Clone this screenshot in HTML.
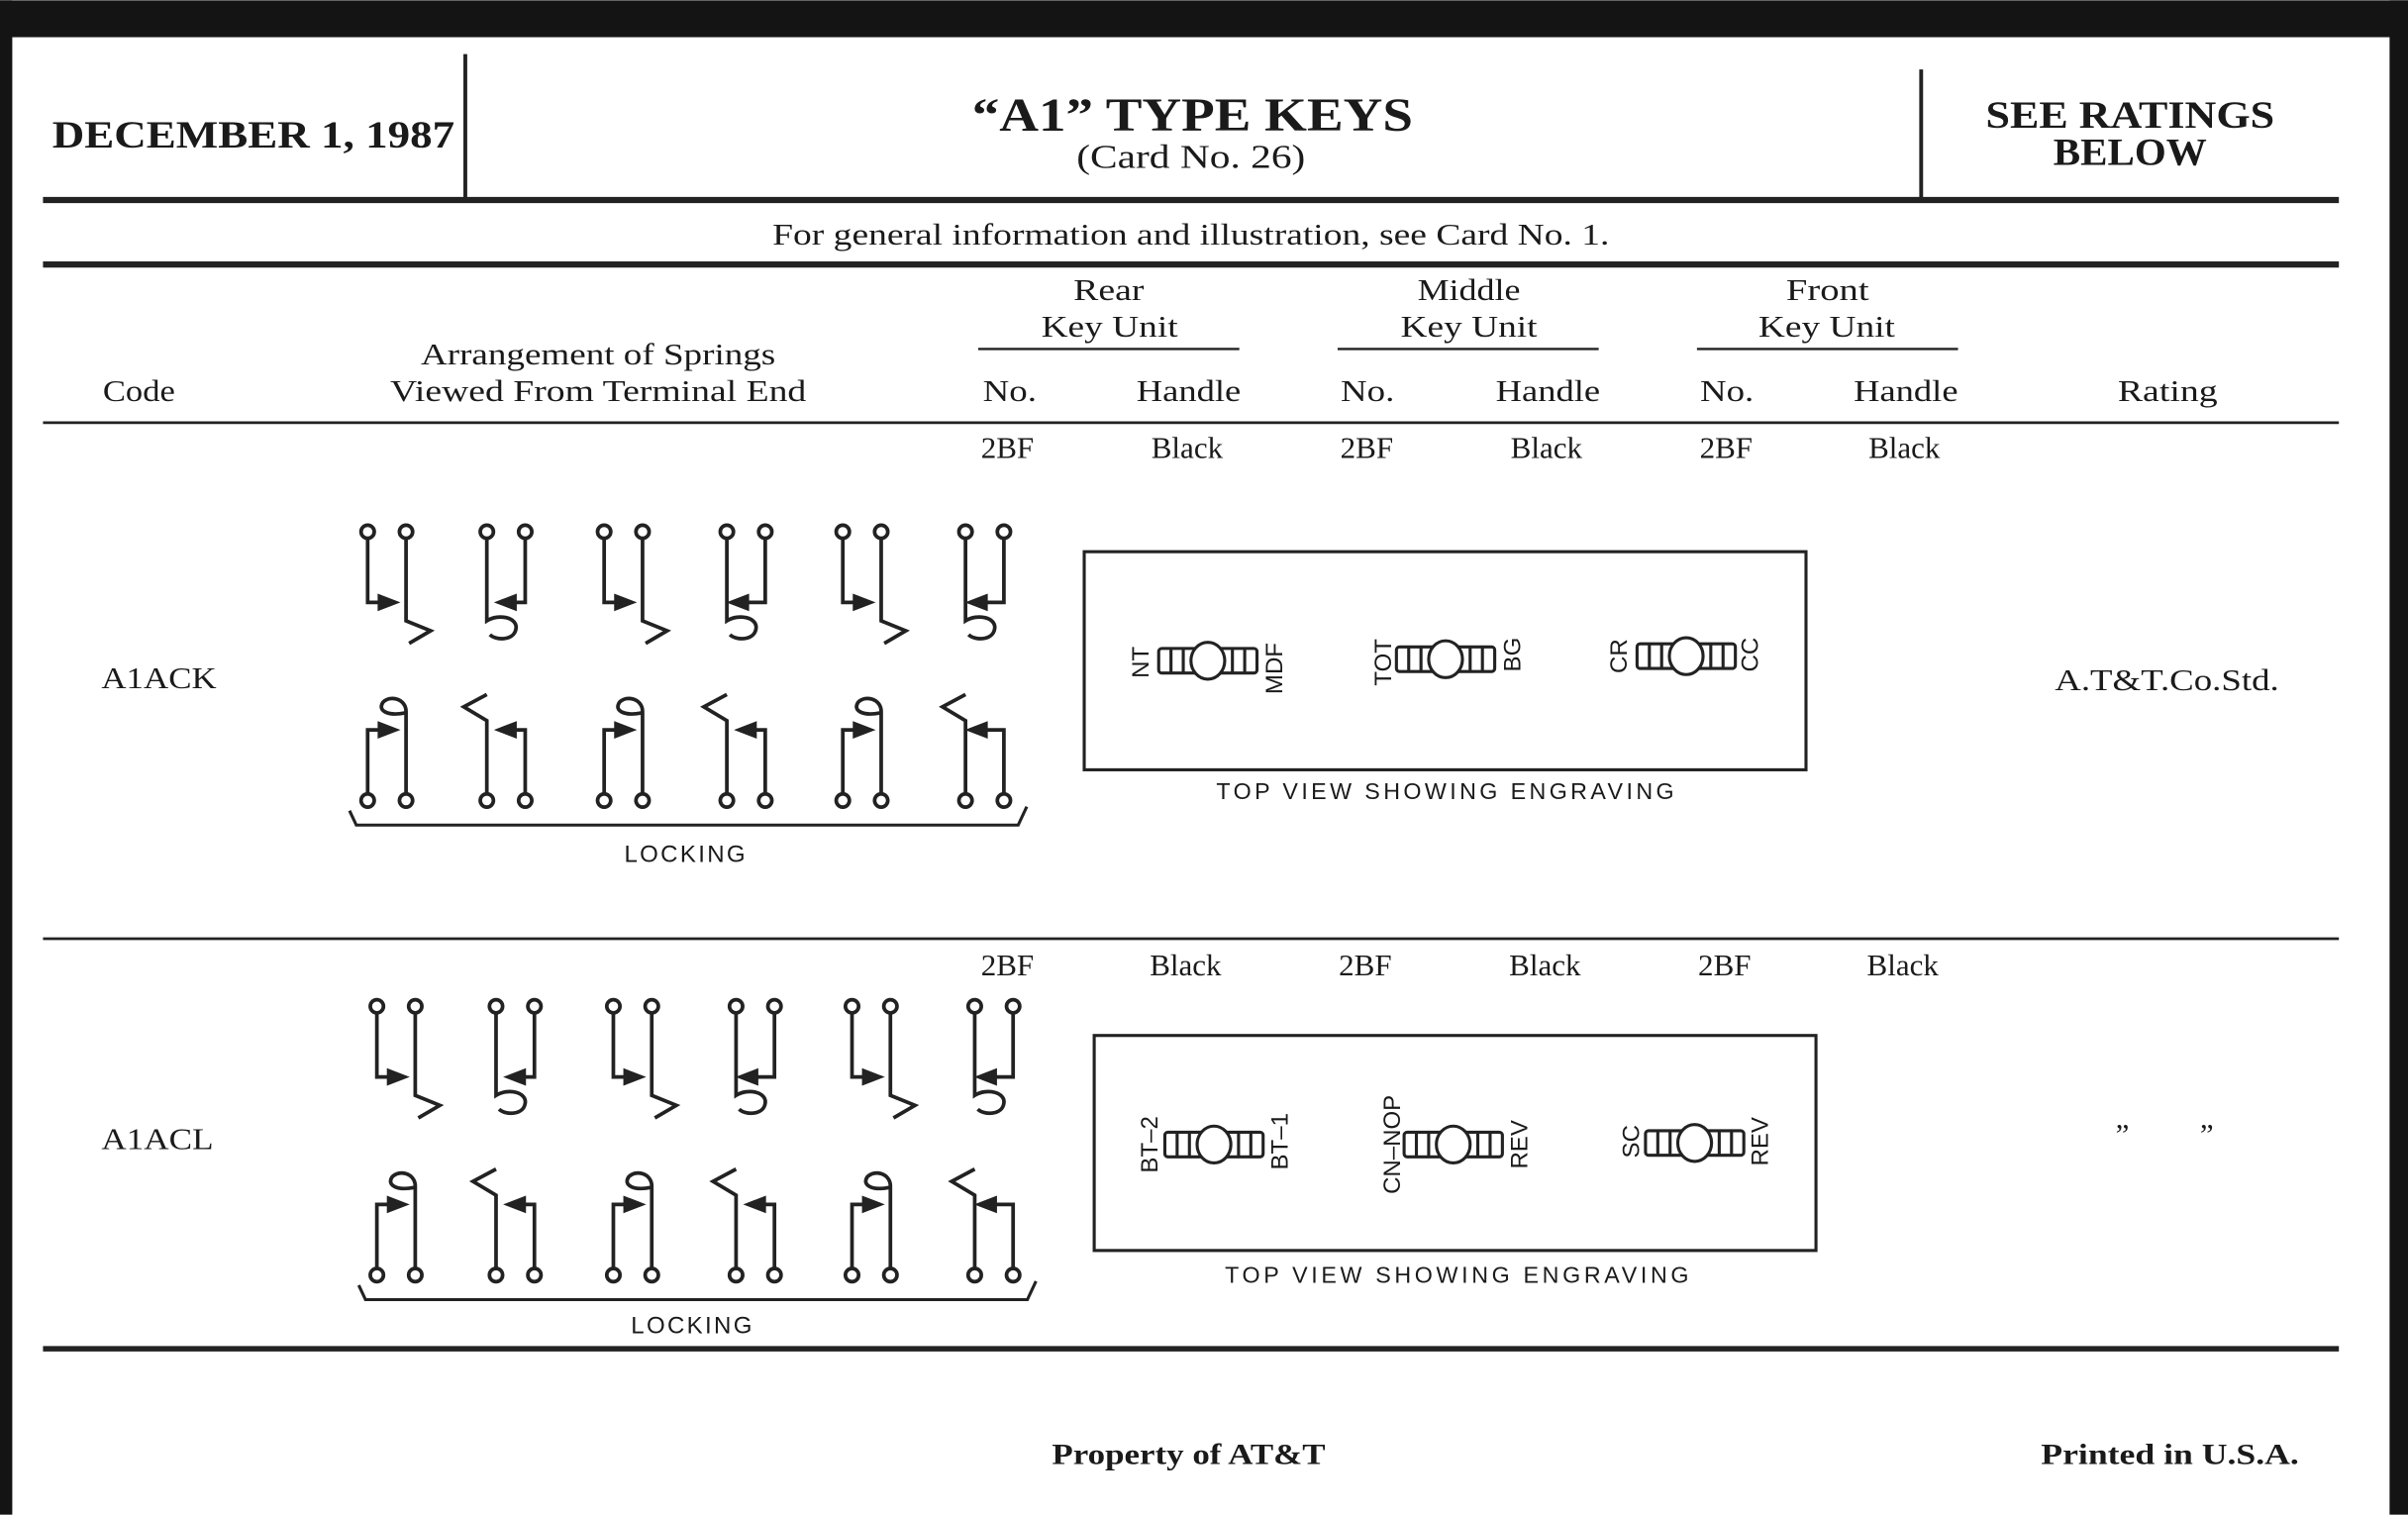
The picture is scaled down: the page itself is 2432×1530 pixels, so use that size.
<!DOCTYPE html>
<html><head><meta charset="utf-8"><style>
html,body{margin:0;padding:0;background:#fff;}
svg{display:block;}
.s{font-family:"Liberation Serif",serif;fill:#1a1a1a;}
.a{font-family:"Liberation Sans",sans-serif;fill:#1a1a1a;}
</style></head><body>
<svg width="2432" height="1530" viewBox="0 0 1568 986" xmlns="http://www.w3.org/2000/svg">
<rect x="0" y="0" width="1568" height="986" fill="#fff"/>
<rect x="0" y="0" width="1568" height="24" fill="#141414"/>
<rect x="0" y="0" width="8" height="986" fill="#141414"/>
<rect x="1556" y="0" width="12" height="986" fill="#141414"/>

<defs>
<g id="tA" stroke="#222" stroke-width="2.4" fill="none">
  <circle cx="0" cy="0" r="4.3"/><circle cx="25" cy="0" r="4.3"/>
  <path d="M0,4.5 V46 H9"/>
  <path d="M25,4.5 V58 L41,64.5 L27,72.7"/>
  <polygon points="7,41 20,46 7,51" fill="#222" stroke-width="1"/>
</g>
<g id="tB" stroke="#222" stroke-width="2.4" fill="none">
  <circle cx="0" cy="0" r="4.3"/><circle cx="25" cy="0" r="4.3"/>
  <path d="M25,4.5 V46 H17"/>
  <path d="M0,4.5 V58 C8,53 20,56 19,63 C18,71 6,71 2,67"/>
  <polygon points="19,41 6,46 19,51" fill="#222" stroke-width="1"/>
</g>
<g id="tC" stroke="#222" stroke-width="2.4" fill="none">
  <circle cx="0" cy="0" r="4.3"/><circle cx="25" cy="0" r="4.3"/>
  <path d="M25,4.5 V46 H12"/>
  <path d="M0,4.5 V58 C8,53 20,56 19,63 C18,71 6,71 2,67"/>
  <polygon points="14,41 1,46 14,51" fill="#222" stroke-width="1"/>
</g>
<g id="bA" stroke="#222" stroke-width="2.4" fill="none">
  <circle cx="0" cy="0" r="4.3"/><circle cx="25" cy="0" r="4.3"/>
  <path d="M0,-4.5 V-46 H9"/>
  <path d="M25,-4.5 V-58 C25,-66 15,-69 10,-64 C6,-58 14,-55 24,-57"/>
  <polygon points="7,-51 20,-46 7,-41" fill="#222" stroke-width="1"/>
</g>
<g id="bB" stroke="#222" stroke-width="2.4" fill="none">
  <circle cx="0" cy="0" r="4.3"/><circle cx="25" cy="0" r="4.3"/>
  <path d="M0,-4.5 V-52 L-15,-61 L0,-69"/>
  <path d="M25,-4.5 V-46 H17"/>
  <polygon points="19,-51 6,-46 19,-41" fill="#222" stroke-width="1"/>
</g>
<g id="bC" stroke="#222" stroke-width="2.4" fill="none">
  <circle cx="0" cy="0" r="4.3"/><circle cx="25" cy="0" r="4.3"/>
  <path d="M0,-4.5 V-52 L-15,-61 L0,-69"/>
  <path d="M25,-4.5 V-46 H12"/>
  <polygon points="14,-51 1,-46 14,-41" fill="#222" stroke-width="1"/>
</g>
<g id="springs">
  <use href="#tA" x="239.4" y="346"/>
  <use href="#tB" x="317" y="346"/>
  <use href="#tA" x="393.4" y="346"/>
  <use href="#tC" x="473.3" y="346"/>
  <use href="#tA" x="548.8" y="346"/>
  <use href="#tC" x="628.7" y="346"/>
  <use href="#bA" x="239.4" y="521"/>
  <use href="#bB" x="317" y="521"/>
  <use href="#bA" x="393.4" y="521"/>
  <use href="#bB" x="473.3" y="521"/>
  <use href="#bA" x="548.8" y="521"/>
  <use href="#bC" x="628.7" y="521"/>
  <path d="M227.6,527.6 L232,537 H663 L668.6,525" stroke="#222" stroke-width="2" fill="none"/>
</g>
<g id="key" stroke="#222" stroke-width="2" fill="#fff">
  <rect x="-32" y="-8" width="64" height="16" rx="2"/>
  <line x1="-24" y1="-8" x2="-24" y2="8"/><line x1="-16" y1="-8" x2="-16" y2="8"/>
  <line x1="16" y1="-8" x2="16" y2="8"/><line x1="24" y1="-8" x2="24" y2="8"/>
  <ellipse cx="0" cy="0" rx="11" ry="12"/>
</g>
</defs>

<!-- header -->
<line x1="303" y1="35" x2="303" y2="130" stroke="#222" stroke-width="2.5"/>
<line x1="1251" y1="45" x2="1251" y2="130" stroke="#222" stroke-width="2.5"/>
<line x1="28" y1="130" x2="1523" y2="130" stroke="#222" stroke-width="4"/>
<text class="s" x="34" y="96" font-size="25" font-weight="bold" textLength="262" lengthAdjust="spacingAndGlyphs">DECEMBER 1, 1987</text>
<text class="s" x="633" y="85" font-size="31" font-weight="bold" textLength="287" lengthAdjust="spacingAndGlyphs">“A1” TYPE KEYS</text>
<text class="s" x="701" y="109" font-size="22" textLength="149" lengthAdjust="spacingAndGlyphs">(Card No. 26)</text>
<text class="s" x="1293" y="83" font-size="25" font-weight="bold" textLength="188" lengthAdjust="spacingAndGlyphs">SEE RATINGS</text>
<text class="s" x="1337" y="107" font-size="25" font-weight="bold" textLength="100" lengthAdjust="spacingAndGlyphs">BELOW</text>
<text class="s" x="503" y="159" font-size="20" textLength="545" lengthAdjust="spacingAndGlyphs">For general information and illustration, see Card No. 1.</text>
<line x1="28" y1="172" x2="1523" y2="172" stroke="#222" stroke-width="4"/>

<!-- column headers -->
<g class="s" font-size="20">
<text class="s" x="699" y="195" textLength="46" lengthAdjust="spacingAndGlyphs">Rear</text><text class="s" x="678" y="219" textLength="89" lengthAdjust="spacingAndGlyphs">Key Unit</text>
<text class="s" x="923" y="195" textLength="67" lengthAdjust="spacingAndGlyphs">Middle</text><text class="s" x="912" y="219" textLength="89" lengthAdjust="spacingAndGlyphs">Key Unit</text>
<text class="s" x="1163" y="195" textLength="54" lengthAdjust="spacingAndGlyphs">Front</text><text class="s" x="1145" y="219" textLength="89" lengthAdjust="spacingAndGlyphs">Key Unit</text>
<text class="s" x="274" y="237" textLength="231" lengthAdjust="spacingAndGlyphs">Arrangement of Springs</text>
<text class="s" x="254" y="261" textLength="271" lengthAdjust="spacingAndGlyphs">Viewed From Terminal End</text>
<text class="s" x="67" y="261" textLength="47" lengthAdjust="spacingAndGlyphs">Code</text>
<text class="s" x="640" y="261" textLength="35" lengthAdjust="spacingAndGlyphs">No.</text><text class="s" x="740" y="261" textLength="68" lengthAdjust="spacingAndGlyphs">Handle</text>
<text class="s" x="873" y="261" textLength="35" lengthAdjust="spacingAndGlyphs">No.</text><text class="s" x="974" y="261" textLength="68" lengthAdjust="spacingAndGlyphs">Handle</text>
<text class="s" x="1107" y="261" textLength="35" lengthAdjust="spacingAndGlyphs">No.</text><text class="s" x="1207" y="261" textLength="68" lengthAdjust="spacingAndGlyphs">Handle</text>
<text class="s" x="1379" y="261" textLength="65" lengthAdjust="spacingAndGlyphs">Rating</text>
</g>
<g class="s" font-size="20" text-anchor="middle">
<text class="s" x="656" y="298">2BF</text><text class="s" x="773" y="298">Black</text>
<text class="s" x="890" y="298">2BF</text><text class="s" x="1007" y="298">Black</text>
<text class="s" x="1124" y="298">2BF</text><text class="s" x="1240" y="298">Black</text>
<text class="s" x="656" y="635">2BF</text><text class="s" x="772" y="635">Black</text>
<text class="s" x="889" y="635">2BF</text><text class="s" x="1006" y="635">Black</text>
<text class="s" x="1123" y="635">2BF</text><text class="s" x="1239" y="635">Black</text>
<text class="s" x="1382" y="745">”</text><text class="s" x="1437" y="745">”</text>
</g>
<text class="s" x="1338" y="449" font-size="20" textLength="146" lengthAdjust="spacingAndGlyphs">A.T&amp;T.Co.Std.</text>
<line x1="637" y1="227" x2="807" y2="227" stroke="#222" stroke-width="1.5"/>
<line x1="871" y1="227" x2="1041" y2="227" stroke="#222" stroke-width="1.5"/>
<line x1="1105" y1="227" x2="1275" y2="227" stroke="#222" stroke-width="1.5"/>
<line x1="28" y1="275" x2="1523" y2="275" stroke="#222" stroke-width="1.8"/>
<line x1="28" y1="611" x2="1523" y2="611" stroke="#222" stroke-width="1.8"/>
<line x1="28" y1="878" x2="1523" y2="878" stroke="#222" stroke-width="3.5"/>

<text class="s" x="66" y="448" font-size="20" textLength="75" lengthAdjust="spacingAndGlyphs">A1ACK</text>
<text class="s" x="66" y="748" font-size="20" textLength="73" lengthAdjust="spacingAndGlyphs">A1ACL</text>

<!-- springs -->
<use href="#springs"/>
<text class="a" x="446.6" y="561" font-size="15.5" text-anchor="middle" letter-spacing="1.5">LOCKING</text>
<use href="#springs" x="6" y="309"/>
<text class="a" x="451" y="868" font-size="15.5" text-anchor="middle" letter-spacing="1.5">LOCKING</text>

<!-- box 1 -->
<rect x="706" y="359" width="470" height="142" fill="none" stroke="#222" stroke-width="2"/>
<use href="#key" x="786.5" y="430"/>
<use href="#key" x="941.3" y="429"/>
<use href="#key" x="1098" y="427"/>
<g class="a" font-size="15.5" text-anchor="middle">
<text class="a" transform="translate(743,431) rotate(-90)" dominant-baseline="central">NT</text>
<text class="a" transform="translate(830,435) rotate(-90)" dominant-baseline="central">MDF</text>
<text class="a" transform="translate(901,431) rotate(-90)" dominant-baseline="central">TOT</text>
<text class="a" transform="translate(985,426) rotate(-90)" dominant-baseline="central">BG</text>
<text class="a" transform="translate(1054.6,427) rotate(-90)" dominant-baseline="central">CR</text>
<text class="a" transform="translate(1139.8,426) rotate(-90)" dominant-baseline="central">CC</text>
</g>
<text class="a" x="941" y="520" font-size="15" text-anchor="middle" textLength="298" lengthAdjust="spacing">TOP VIEW SHOWING ENGRAVING</text>

<!-- box 2 -->
<rect x="712.5" y="674" width="470" height="140" fill="none" stroke="#222" stroke-width="2"/>
<use href="#key" x="790.5" y="745"/>
<use href="#key" x="946.3" y="745"/>
<use href="#key" x="1103.5" y="744"/>
<g class="a" font-size="15.5" text-anchor="middle">
<text class="a" transform="translate(749,745) rotate(-90)" dominant-baseline="central">BT–2</text>
<text class="a" transform="translate(833.6,743) rotate(-90)" dominant-baseline="central">BT–1</text>
<text class="a" transform="translate(906.9,745) rotate(-90)" dominant-baseline="central">CN–NOP</text>
<text class="a" transform="translate(989.6,745) rotate(-90)" dominant-baseline="central">REV</text>
<text class="a" transform="translate(1062.6,743) rotate(-90)" dominant-baseline="central">SC</text>
<text class="a" transform="translate(1146.3,743) rotate(-90)" dominant-baseline="central">REV</text>
</g>
<text class="a" x="948.6" y="835" font-size="15" text-anchor="middle" textLength="302" lengthAdjust="spacing">TOP VIEW SHOWING ENGRAVING</text>

<!-- footer -->
<text class="s" x="685" y="953" font-size="19" font-weight="bold" textLength="178" lengthAdjust="spacingAndGlyphs">Property of AT&amp;T</text>
<text class="s" x="1329" y="953" font-size="19" font-weight="bold" textLength="168" lengthAdjust="spacingAndGlyphs">Printed in U.S.A.</text>
</svg>
</body></html>
